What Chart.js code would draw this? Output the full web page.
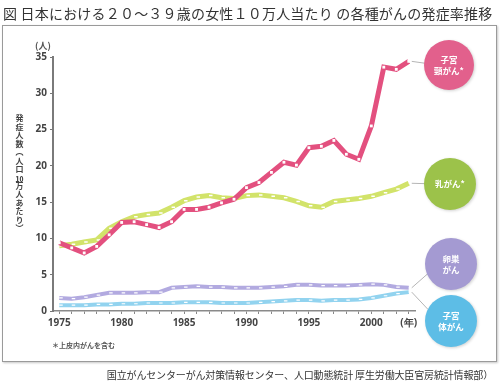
<!DOCTYPE html>
<html lang="ja">
<head>
<meta charset="utf-8">
<script src="https://cdn.jsdelivr.net/npm/chart.js@4"></script>
<style>
  body { margin: 0; background: #fff; }
  #wrap { position: relative; width: 500px; height: 387px; font-family: "Noto Sans CJK JP", sans-serif; overflow: hidden; }
  #frame { position: absolute; left: 2px; top: 25px; width: 493px; height: 335px; border: 1px solid #9a9a9a; box-shadow: 1px 1px 2px #c8c8c8; }
  #title { position: absolute; left: 3px; top: 3px; font-size: 14px; color: #333; white-space: nowrap; letter-spacing: 0.2px; }
  #source { position: absolute; right: 7px; top: 367px; font-size: 10px; color: #333; white-space: nowrap; letter-spacing: -0.15px; }
  #ytitle { position: absolute; left: 15px; top: 114px; writing-mode: vertical-rl; font-size: 8px; font-weight: bold; color: #444; line-height: 1; letter-spacing: 0.5px; }
  #unit { position: absolute; left: 35px; top: 39px; font-size: 9px; font-weight: bold; color: #555; }
  #note { position: absolute; left: 52px; top: 340px; font-size: 7px; font-weight: bold; color: #555; }
  canvas { position: absolute; left: 0; top: 0; }
</style>
</head>
<body>
<div id="wrap">
  <div id="frame"></div>
  <canvas id="chart" width="500" height="387"></canvas>
  <div id="title">図 日本における２０〜３９歳の女性１０万人当たり の各種がんの発症率推移</div>
  <div id="unit">(人)</div>
  <div id="ytitle">発症人数（人口<span style="text-combine-upright:all">10</span>万人あたり）</div>
  <div id="note">＊上皮内がんを含む</div>
  <div id="source">国立がんセンターがん対策情報センター、人口動態統計 厚生労働大臣官房統計情報部）</div>
</div>
<script>
var years = [1975, 1976, 1977, 1978, 1979, 1980, 1981, 1982, 1983, 1984,
             1985, 1986, 1987, 1988, 1989, 1990, 1991, 1992, 1993, 1994,
             1995, 1996, 1997, 1998, 1999, 2000, 2001, 2002, 2003];
// 子宮頸がん*
var cervix = [9.4, 8.7, 8.0, 8.9, 10.5, 12.2, 12.3, 11.9, 11.5, 12.3,
              14.0, 14.0, 14.3, 14.9, 15.4, 17.0, 17.7, 19.1, 20.5, 20.1,
              22.5, 22.7, 23.5, 21.6, 20.9, 25.5, 33.6, 33.3, 34.4];
// 乳がん*
var breast = [9.0, 9.2, 9.5, 9.8, 11.4, 12.3, 13.0, 13.3, 13.5, 14.3,
              15.2, 15.7, 15.9, 15.6, 15.5, 15.9, 16.0, 15.8, 15.6, 15.1,
              14.5, 14.3, 15.1, 15.3, 15.5, 15.8, 16.3, 16.8, 17.6];
// 卵巣がん
var ovary = [1.8, 1.7, 1.9, 2.2, 2.5, 2.5, 2.5, 2.6, 2.6, 3.2,
             3.3, 3.4, 3.3, 3.3, 3.2, 3.2, 3.2, 3.3, 3.4, 3.6,
             3.6, 3.5, 3.5, 3.5, 3.6, 3.7, 3.6, 3.3, 3.2];
// 子宮体がん
var uterus = [0.8, 0.8, 0.8, 0.9, 0.9, 1.0, 1.0, 1.1, 1.1, 1.1,
              1.2, 1.2, 1.2, 1.1, 1.1, 1.1, 1.2, 1.3, 1.4, 1.5,
              1.5, 1.4, 1.5, 1.5, 1.6, 1.8, 2.1, 2.4, 2.6];
var yTicks = [0, 5, 10, 15, 20, 25, 30, 35];

// bubble labels on the right (pixel spots, not data)
var bubbles = [
    { ds: 0, x: 449, y: 65, r: 25, color: '#e2608c', lines: ['子宮', '頸がん*'] },
    { ds: 1, x: 450, y: 184, r: 26, color: '#9cc24a', lines: ['乳がん*'] },
    { ds: 2, x: 451, y: 264, r: 26, color: '#a49ad2', lines: ['卵巣', 'がん'] },
    { ds: 3, x: 451, y: 321, r: 26, color: '#5dbde6', lines: ['子宮', '体がん'] }
];

var bubblePlugin = {
    id: 'bubbles',
    afterDatasetsDraw: function (chart) {
        var ctx = chart.ctx;
        ctx.save();
        bubbles.forEach(function (b) {
            var meta = chart.getDatasetMeta(b.ds);
            var last = meta.data[meta.data.length - 1];
            ctx.strokeStyle = '#b5b5b5';
            ctx.lineWidth = 1;
            ctx.beginPath();
            ctx.moveTo(last.x + 3, last.y);
            ctx.lineTo(b.x - b.r + 3, b.y + (last.y - b.y) * 0.4);
            ctx.stroke();

            ctx.shadowColor = 'rgba(0,0,0,0.18)';
            ctx.shadowBlur = 3;
            ctx.shadowOffsetX = 1;
            ctx.shadowOffsetY = 1;
            ctx.fillStyle = b.color;
            ctx.beginPath();
            ctx.arc(b.x, b.y, b.r, 0, Math.PI * 2);
            ctx.fill();
            ctx.shadowColor = 'transparent';

            ctx.fillStyle = '#fff';
            ctx.font = 'bold 8.5px "Noto Sans CJK JP"';
            ctx.textAlign = 'center';
            ctx.textBaseline = 'middle';
            var h = 11;
            var y0 = b.y - (b.lines.length - 1) * h / 2;
            b.lines.forEach(function (t, i) {
                ctx.fillText(t, b.x, y0 + i * h);
            });
        });
        ctx.restore();
    }
};

var tickFont = { family: 'Noto Sans', size: 10, weight: 'bold' };

new Chart(document.getElementById('chart'), {
    type: 'line',
    data: {
        labels: years,
        datasets: [
            {
                label: '子宮頸がん*', data: cervix,
                borderColor: '#e3507f', borderWidth: 5, tension: 0,
                pointStyle: 'rect', pointRadius: 2, pointBorderWidth: 0,
                pointBackgroundColor: '#fff'
            },
            {
                label: '乳がん*', data: breast,
                borderColor: '#d2e36a', borderWidth: 5, tension: 0,
                pointStyle: 'dash', pointRadius: 3.5, pointBorderWidth: 1.5,
                pointBorderColor: '#fff'
            },
            {
                label: '卵巣がん', data: ovary,
                borderColor: '#b2aae0', borderWidth: 4, tension: 0,
                pointStyle: 'dash', pointRadius: 3.5, pointBorderWidth: 1.2,
                pointBorderColor: '#fff'
            },
            {
                label: '子宮体がん', data: uterus,
                borderColor: '#92d3ef', borderWidth: 4, tension: 0,
                pointStyle: 'dash', pointRadius: 3.5, pointBorderWidth: 1.2,
                pointBorderColor: '#fff'
            }
        ]
    },
    options: {
        responsive: false,
        animation: false,
        layout: { padding: { left: 5, top: 57, right: 85, bottom: 48 } },
        plugins: { legend: { display: false }, tooltip: { enabled: false } },
        scales: {
            x: {
                type: 'category',
                offset: true,
                grid: { drawOnChartArea: false, tickLength: 3, color: '#888' },
                border: { color: '#8a8a8a', width: 1.5 },
                ticks: {
                    autoSkip: false, maxRotation: 0, padding: 3,
                    color: '#444', font: tickFont,
                    callback: function (v, i) {
                        var yr = years[i];
                        if (i === years.length - 1) return '(年)';
                        return yr % 5 === 0 ? String(yr) : '';
                    }
                },
                afterFit: function (s) { s.height = 28; }
            },
            y: {
                min: 0, max: 35,
                afterBuildTicks: function (s) {
                    s.ticks = yTicks.map(function (v) { return { value: v }; });
                },
                grid: { drawOnChartArea: false, tickLength: 3, color: '#777' },
                border: { color: '#7a7a7a', width: 2 },
                ticks: { color: '#444', font: tickFont, padding: 3 },
                afterFit: function (s) { s.width = 48; }
            }
        }
    },
    plugins: [bubblePlugin]
});
</script>
</body>
</html>
